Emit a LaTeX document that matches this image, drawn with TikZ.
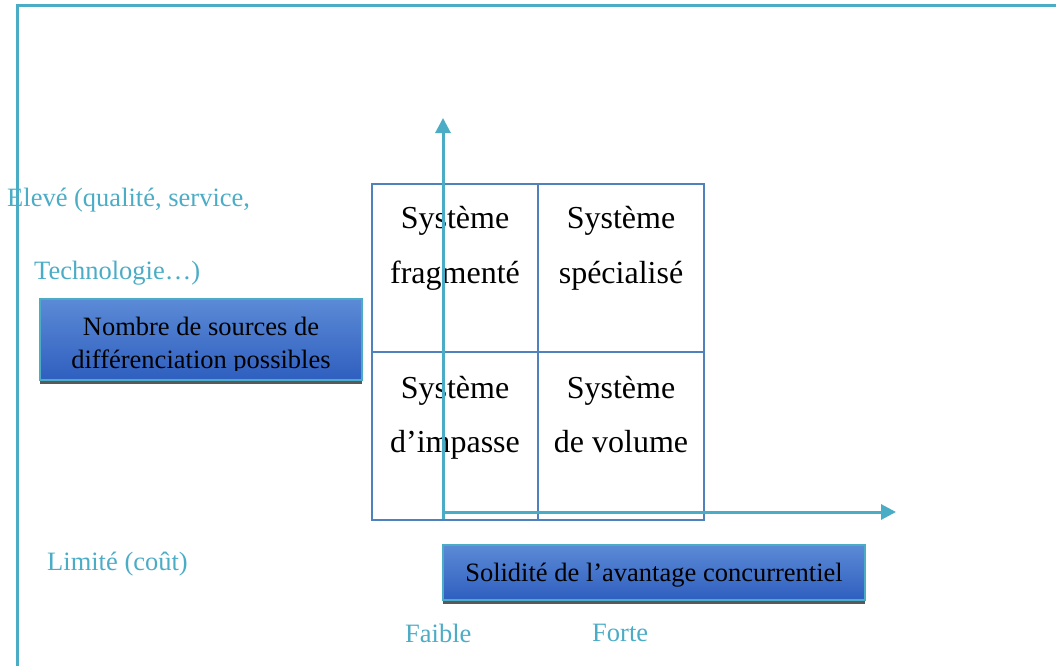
\documentclass[tikz,border=0pt]{standalone}
\usepackage{fontspec}
\setmainfont{Liberation Serif}
\usetikzlibrary{arrows.meta}
\definecolor{cyanline}{HTML}{4BACC6}
\definecolor{gridblue}{HTML}{4F81BD}
\definecolor{boxtop}{HTML}{5B8AD6}
\definecolor{boxbot}{HTML}{2F5FBF}
\tikzset{
  cell/.style={draw=gridblue, line width=2pt, minimum width=166pt, minimum height=168pt, inner sep=0pt},
  celltext/.style={anchor=base, font=\fontsize{32}{38}\selectfont, text=black, inner sep=0pt},
  cyantext/.style={text=cyanline, font=\fontsize{26.5}{30}\selectfont, inner sep=0pt},
  axis/.style={draw=cyanline, line width=3pt, -{Triangle[length=15pt,width=15pt]}},
  bluebox/.style={draw=cyanline, line width=1.5pt, top color=boxtop, bottom color=boxbot, inner sep=0pt},
  boxtext/.style={text=black, font=\fontsize{26.5}{32}\selectfont, inner sep=0pt},
}
\begin{document}
\begin{tikzpicture}[x=1pt,y=-1pt]
\useasboundingbox (0,0) rectangle (1056,666);
% frame
\draw[cyanline, line width=3pt] (17,666) -- (17,6) -- (1056,6);
% grid cells
\node[cell] (c1) at (455,268) {};
\node[cell] (c2) at (621,268) {};
\node[cell] (c3) at (455,436) {};
\node[cell] (c4) at (621,436) {};
\node[celltext] (t1a) at (455,228) {Système};
\node[celltext] (t1b) at (455,283) {fragmenté};
\node[celltext] (t2a) at (621,228) {Système};
\node[celltext] (t2b) at (621,283) {spécialisé};
\node[celltext] (t3a) at (455,398) {Système};
\node[celltext] (t3b) at (455,452) {d’impasse};
\node[celltext] (t4a) at (621,398) {Système};
\node[celltext] (t4b) at (621,452) {de volume};
% axes
\coordinate (o) at (443,512);
\coordinate (ystart) at (443,519);
\coordinate (ytop) at (443,118);
\coordinate (xend) at (896,512);
\draw[axis] (ystart) -- (ytop);
\draw[axis] (o) -- (xend);
% left box
\fill[gray!70!black] (40,303) rectangle (362,384);
\node[bluebox, minimum width=322pt, minimum height=81pt] (lb) at (201,339.5) {};
\begin{scope}
\clip (40,299) rectangle (362,370);
\node[boxtext, anchor=base] (lb1) at (201,335) {Nombre de sources de};
\node[boxtext, anchor=base] (lb2) at (201,368) {différenciation possibles};
\end{scope}
% bottom box
\fill[gray!70!black] (443,549) rectangle (865,604);
\node[bluebox, minimum width=422pt, minimum height=55pt] (bb) at (654,572.5) {};
\node[boxtext] (bbt) at (654,575) {Solidité de l’avantage concurrentiel};
% labels
\node[cyantext, anchor=west] (l1) at (7,200) {Elevé (qualité, service,};
\node[cyantext, anchor=west] (l2) at (34,273) {Technologie…)};
\node[cyantext, anchor=west] (l3) at (47,564) {Limité (coût)};
\node[cyantext, anchor=west] (l4) at (405,633) {Faible};
\node[cyantext, anchor=west] (l5) at (592,633) {Forte};
\end{tikzpicture}
\end{document}
